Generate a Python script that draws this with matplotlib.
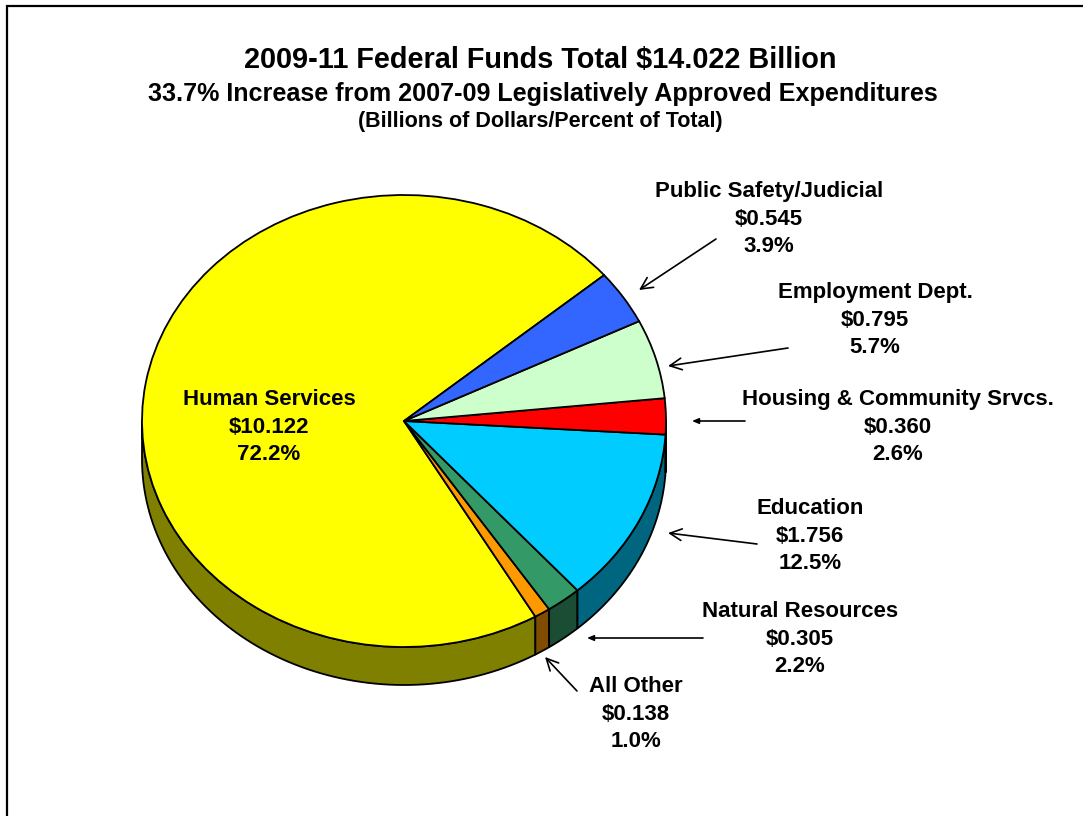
import matplotlib
matplotlib.use("Agg")
import matplotlib.pyplot as plt
import numpy as np

plt.rcParams['font.family'] = ['Liberation Sans', 'DejaVu Sans']

W, H = 1083, 816

# slices, counter clockwise starting from the top right
names = ['Human Services', 'All Other', 'Natural Resources', 'Education',
         'Housing & Community Srvcs.', 'Employment Dept.', 'Public Safety/Judicial']
values = [10.122, 0.138, 0.305, 1.756, 0.360, 0.795, 0.545]
percents = ['72.2%', '1.0%', '2.2%', '12.5%', '2.6%', '5.7%', '3.9%']
colors = ['#FFFF00', '#FF9900', '#339966', '#00CCFF', '#FF0000', '#CCFFCC', '#3366FF']
side_colors = ['#808000', '#804D00', '#1A4D33', '#006680', '#800000', '#668066', '#1A3380']

# label centre x and baseline y of first line, in pixels
label_x = [269, 636, 800, 810, 898, 875, 769]
label_y = [405, 692, 617, 514, 405, 298, 197]
line_gap = 27.7

# arrows (from, to) in pixels
arrows = [((716, 239), (639, 290)), ((788, 348), (668, 366)),
          ((757, 544), (668, 533)), ((577, 691), (545, 657))]
small_arrows = [((745, 421), (692, 421)), ((703, 638), (587, 638))]

cx, cy, rx, ry, depth = 404, 421, 262, 226, 38
start = 40.2

fig = plt.figure(figsize=(W / 100, H / 100), dpi=100)

# the pie, squashed by the shape of its axes
ax = fig.add_axes([(cx - 1.25 * rx) / W, 1 - (cy + 1.25 * ry) / H, 2.5 * rx / W, 2.5 * ry / H])
ax.pie(values, colors=colors, startangle=start, counterclock=True,
       wedgeprops={'edgecolor': 'black', 'linewidth': 1.3, 'zorder': 3})
ax.set_aspect('auto')
ax.set_xlim(-1.25, 1.25)
ax.set_ylim(-1.25, 1.25)
ax.axis('off')

# side of the pie, only the front half shows
dy = depth / ry
edges = start + np.cumsum([0] + values) / np.sum(values) * 360
for i in range(len(values)):
    for shift in (0, 360):
        a = max(edges[i] + shift, 180)
        b = min(edges[i + 1] + shift, 360)
        if a >= b:
            continue
        t = np.radians(np.linspace(a, b, 80))
        xs = np.concatenate([np.cos(t), np.cos(t[::-1])])
        ys = np.concatenate([np.sin(t), np.sin(t[::-1]) - dy])
        ax.fill(xs, ys, facecolor=side_colors[i], edgecolor='black', linewidth=1.3,
                joinstyle='round', zorder=1)

# everything else goes on a pixel sized overlay
ov = fig.add_axes([0, 0, 1, 1])
ov.set_xlim(0, W)
ov.set_ylim(H, 0)
ov.axis('off')
ov.patch.set_alpha(0)

ov.plot([7, 7, W], [H, 6, 6], color='black', lw=1.6, solid_joinstyle='miter')

ov.text(540, 68.5, '2009-11 Federal Funds Total $14.022 Billion'.replace('$', r'\$'), ha='center',
        va='baseline', fontsize=20.8, fontweight='bold')
ov.text(543, 100.5, '33.7% Increase from 2007-09 Legislatively Approved Expenditures', ha='center',
        va='baseline', fontsize=18.1, fontweight='bold')
ov.text(540, 127.5, '(Billions of Dollars/Percent of Total)', ha='center', va='baseline',
        fontsize=15.5, fontweight='bold')

for i in range(len(names)):
    lines = [names[i], '$%.3f' % values[i], percents[i]]
    for j in range(3):
        ov.text(label_x[i], label_y[i] + j * line_gap, lines[j].replace('$', r'\$'), ha='center',
                va='baseline', fontsize=16, fontweight='bold')

for p, q in arrows:
    ov.annotate('', xy=q, xytext=p, arrowprops=dict(arrowstyle='->,head_length=0.85,head_width=0.42',
                lw=1.2, color='black', shrinkA=0, shrinkB=0))
for p, q in small_arrows:
    ov.annotate('', xy=q, xytext=p, arrowprops=dict(arrowstyle='-|>,head_length=0.38,head_width=0.16',
                lw=1.2, color='black', fc='black', shrinkA=0, shrinkB=0))

fig.savefig('out.png', dpi=100)
